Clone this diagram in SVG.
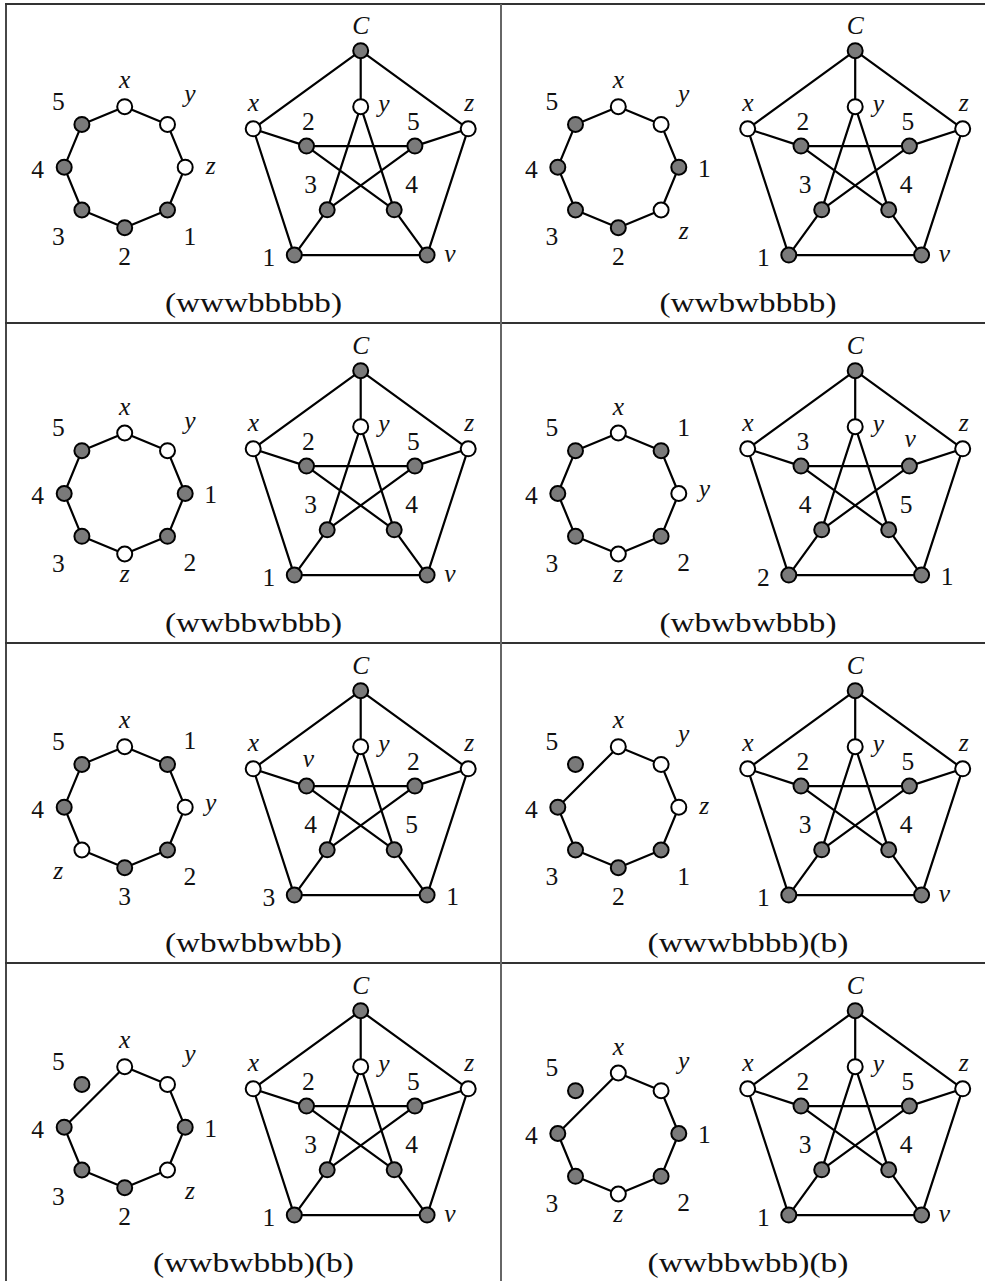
<svg xmlns="http://www.w3.org/2000/svg" xmlns:xlink="http://www.w3.org/1999/xlink" width="985" height="1281" viewBox="0 0 985 1281">
<style>
.edge{fill:none;stroke:#000;stroke-width:2.2;stroke-linejoin:round}
.w{fill:#fff;stroke:#000;stroke-width:2}
.b{fill:#7a7a7a;stroke:#000;stroke-width:2}
.lb{font-family:"Liberation Serif","Times New Roman",serif;font-size:25.5px;text-anchor:middle;fill:#111}
.it{font-style:italic}
.cap{font-family:"Liberation Serif","Times New Roman",serif;font-size:27px;text-anchor:middle;fill:#111}
.tl{stroke:#333;stroke-width:1.8}
.tv{stroke:#666;stroke-width:2}
</style>
<defs>
<path id="ring8" d="M0,-60.5 L42.8,-42.8 L60.5,0 L42.8,42.8 L0,60.5 L-42.8,42.8 L-60.5,0 L-42.8,-42.8 Z"/>
<path id="ring7" d="M0,-60.5 L42.8,-42.8 L60.5,0 L42.8,42.8 L0,60.5 L-42.8,42.8 L-60.5,0 Z"/>
<path id="pet" d="M0,-113 L-107.5,-34.9 L-66.4,91.4 L66.4,91.4 L107.5,-34.9 Z M0,-113 L0,-57 M-107.5,-34.9 L-54.2,-17.6 M107.5,-34.9 L54.2,-17.6 M-66.4,91.4 L-33.5,46.1 M66.4,91.4 L33.5,46.1 M0,-57 L-33.5,46.1 L54.2,-17.6 L-54.2,-17.6 L33.5,46.1 Z"/>
</defs>
<rect x="0" y="0" width="985" height="1281" fill="#fff"/>
<g id="table">
<line class="tl" x1="5" y1="4" x2="985" y2="4"/>
<line class="tl" x1="5" y1="323" x2="985" y2="323"/>
<line class="tl" x1="5" y1="643" x2="985" y2="643"/>
<line class="tl" x1="5" y1="963" x2="985" y2="963"/>
<line class="tl" x1="6" y1="3" x2="6" y2="1281"/>
<line class="tv" x1="501" y1="4" x2="501" y2="1281"/>
</g>
<g id="connectors" class="edge">
<use href="#ring8" x="124.7" y="167.2"/>
<use href="#pet" x="360.7" y="163.7"/>
<use href="#ring8" x="618.3" y="167.2"/>
<use href="#pet" x="855.2" y="163.7"/>
<use href="#ring8" x="124.7" y="493.5"/>
<use href="#pet" x="360.7" y="483.7"/>
<use href="#ring8" x="618.3" y="493.5"/>
<use href="#pet" x="855.2" y="483.7"/>
<use href="#ring8" x="124.7" y="807.2"/>
<use href="#pet" x="360.7" y="803.7"/>
<use href="#ring7" x="618.3" y="807.2"/>
<use href="#pet" x="855.2" y="803.7"/>
<use href="#ring7" x="124.7" y="1127.2"/>
<use href="#pet" x="360.7" y="1123.7"/>
<use href="#ring7" x="618.3" y="1133.5"/>
<use href="#pet" x="855.2" y="1123.7"/>
</g>

<!-- Cell 1L -->
<g id="ring-1L" transform="translate(124.7,167.2)">
<g id="r1L-x"><circle class="w" cx="0" cy="-60.5" r="7.5"/><text class="lb it" x="0" y="-79">x</text></g>
<g id="r1L-y"><circle class="w" cx="42.8" cy="-42.8" r="7.5"/><text class="lb it" x="65.3" y="-65">y</text></g>
<g id="r1L-z"><circle class="w" cx="60.5" cy="0" r="7.5"/><text class="lb it" x="86" y="6.5">z</text></g>
<g id="r1L-1"><circle class="b" cx="42.8" cy="42.8" r="7.5"/><text class="lb" x="65.3" y="77.8">1</text></g>
<g id="r1L-2"><circle class="b" cx="0" cy="60.5" r="7.5"/><text class="lb" x="0" y="98">2</text></g>
<g id="r1L-3"><circle class="b" cx="-42.8" cy="42.8" r="7.5"/><text class="lb" x="-66.4" y="78">3</text></g>
<g id="r1L-4"><circle class="b" cx="-60.5" cy="0" r="7.5"/><text class="lb" x="-87" y="10.5">4</text></g>
<g id="r1L-5"><circle class="b" cx="-42.8" cy="-42.8" r="7.5"/><text class="lb" x="-66.4" y="-57.5">5</text></g>
</g>
<g id="pet-1L" transform="translate(360.7,163.7)">
<g id="p1L-C"><circle class="b" cx="0" cy="-113" r="7.5"/><text class="lb it" x="0" y="-129.3">C</text></g>
<g id="p1L-x"><circle class="w" cx="-107.5" cy="-34.9" r="7.5"/><text class="lb it" x="-107.4" y="-53">x</text></g>
<g id="p1L-z"><circle class="w" cx="107.5" cy="-34.9" r="7.5"/><text class="lb it" x="108.6" y="-53">z</text></g>
<g id="p1L-y"><circle class="w" cx="0" cy="-57" r="7.5"/><text class="lb it" x="23.3" y="-51.5">y</text></g>
<g id="p1L-2"><circle class="b" cx="-54.2" cy="-17.6" r="7.5"/><text class="lb" x="-52.4" y="-33.3">2</text></g>
<g id="p1L-5"><circle class="b" cx="54.2" cy="-17.6" r="7.5"/><text class="lb" x="52.6" y="-33.3">5</text></g>
<g id="p1L-3"><circle class="b" cx="-33.5" cy="46.1" r="7.5"/><text class="lb" x="-50" y="29">3</text></g>
<g id="p1L-4"><circle class="b" cx="33.5" cy="46.1" r="7.5"/><text class="lb" x="51" y="29">4</text></g>
<g id="p1L-1"><circle class="b" cx="-66.4" cy="91.4" r="7.5"/><text class="lb" x="-91.8" y="102.1">1</text></g>
<g id="p1L-v"><circle class="b" cx="66.4" cy="91.4" r="7.5"/><text class="lb it" x="89.3" y="98.7">v</text></g>
</g>
<text id="cap-1L" class="cap" x="253.5" y="311.7" textLength="177" lengthAdjust="spacingAndGlyphs">(wwwbbbbb)</text>

<!-- Cell 1R -->
<g id="ring-1R" transform="translate(618.3,167.2)">
<g id="r1R-x"><circle class="w" cx="0" cy="-60.5" r="7.5"/><text class="lb it" x="0" y="-79">x</text></g>
<g id="r1R-y"><circle class="w" cx="42.8" cy="-42.8" r="7.5"/><text class="lb it" x="65.3" y="-65">y</text></g>
<g id="r1R-1"><circle class="b" cx="60.5" cy="0" r="7.5"/><text class="lb" x="86" y="9.5">1</text></g>
<g id="r1R-z"><circle class="w" cx="42.8" cy="42.8" r="7.5"/><text class="lb it" x="65.3" y="71.8">z</text></g>
<g id="r1R-2"><circle class="b" cx="0" cy="60.5" r="7.5"/><text class="lb" x="0" y="98">2</text></g>
<g id="r1R-3"><circle class="b" cx="-42.8" cy="42.8" r="7.5"/><text class="lb" x="-66.4" y="78">3</text></g>
<g id="r1R-4"><circle class="b" cx="-60.5" cy="0" r="7.5"/><text class="lb" x="-87" y="10.5">4</text></g>
<g id="r1R-5"><circle class="b" cx="-42.8" cy="-42.8" r="7.5"/><text class="lb" x="-66.4" y="-57.5">5</text></g>
</g>
<g id="pet-1R" transform="translate(855.2,163.7)">
<g id="p1R-C"><circle class="b" cx="0" cy="-113" r="7.5"/><text class="lb it" x="0" y="-129.3">C</text></g>
<g id="p1R-x"><circle class="w" cx="-107.5" cy="-34.9" r="7.5"/><text class="lb it" x="-107.4" y="-53">x</text></g>
<g id="p1R-z"><circle class="w" cx="107.5" cy="-34.9" r="7.5"/><text class="lb it" x="108.6" y="-53">z</text></g>
<g id="p1R-y"><circle class="w" cx="0" cy="-57" r="7.5"/><text class="lb it" x="23.3" y="-51.5">y</text></g>
<g id="p1R-2"><circle class="b" cx="-54.2" cy="-17.6" r="7.5"/><text class="lb" x="-52.4" y="-33.3">2</text></g>
<g id="p1R-5"><circle class="b" cx="54.2" cy="-17.6" r="7.5"/><text class="lb" x="52.6" y="-33.3">5</text></g>
<g id="p1R-3"><circle class="b" cx="-33.5" cy="46.1" r="7.5"/><text class="lb" x="-50" y="29">3</text></g>
<g id="p1R-4"><circle class="b" cx="33.5" cy="46.1" r="7.5"/><text class="lb" x="51" y="29">4</text></g>
<g id="p1R-1"><circle class="b" cx="-66.4" cy="91.4" r="7.5"/><text class="lb" x="-91.8" y="102.1">1</text></g>
<g id="p1R-v"><circle class="b" cx="66.4" cy="91.4" r="7.5"/><text class="lb it" x="89.3" y="98.7">v</text></g>
</g>
<text id="cap-1R" class="cap" x="748" y="311.7" textLength="177" lengthAdjust="spacingAndGlyphs">(wwbwbbbb)</text>

<!-- Cell 2L -->
<g id="ring-2L" transform="translate(124.7,493.5)">
<g id="r2L-x"><circle class="w" cx="0" cy="-60.5" r="7.5"/><text class="lb it" x="0" y="-79">x</text></g>
<g id="r2L-y"><circle class="w" cx="42.8" cy="-42.8" r="7.5"/><text class="lb it" x="65.3" y="-65">y</text></g>
<g id="r2L-1"><circle class="b" cx="60.5" cy="0" r="7.5"/><text class="lb" x="86" y="9.5">1</text></g>
<g id="r2L-2"><circle class="b" cx="42.8" cy="42.8" r="7.5"/><text class="lb" x="65.3" y="77.8">2</text></g>
<g id="r2L-z"><circle class="w" cx="0" cy="60.5" r="7.5"/><text class="lb it" x="0" y="88.6">z</text></g>
<g id="r2L-3"><circle class="b" cx="-42.8" cy="42.8" r="7.5"/><text class="lb" x="-66.4" y="78">3</text></g>
<g id="r2L-4"><circle class="b" cx="-60.5" cy="0" r="7.5"/><text class="lb" x="-87" y="10.5">4</text></g>
<g id="r2L-5"><circle class="b" cx="-42.8" cy="-42.8" r="7.5"/><text class="lb" x="-66.4" y="-57.5">5</text></g>
</g>
<g id="pet-2L" transform="translate(360.7,483.7)">
<g id="p2L-C"><circle class="b" cx="0" cy="-113" r="7.5"/><text class="lb it" x="0" y="-129.3">C</text></g>
<g id="p2L-x"><circle class="w" cx="-107.5" cy="-34.9" r="7.5"/><text class="lb it" x="-107.4" y="-53">x</text></g>
<g id="p2L-z"><circle class="w" cx="107.5" cy="-34.9" r="7.5"/><text class="lb it" x="108.6" y="-53">z</text></g>
<g id="p2L-y"><circle class="w" cx="0" cy="-57" r="7.5"/><text class="lb it" x="23.3" y="-51.5">y</text></g>
<g id="p2L-2"><circle class="b" cx="-54.2" cy="-17.6" r="7.5"/><text class="lb" x="-52.4" y="-33.3">2</text></g>
<g id="p2L-5"><circle class="b" cx="54.2" cy="-17.6" r="7.5"/><text class="lb" x="52.6" y="-33.3">5</text></g>
<g id="p2L-3"><circle class="b" cx="-33.5" cy="46.1" r="7.5"/><text class="lb" x="-50" y="29">3</text></g>
<g id="p2L-4"><circle class="b" cx="33.5" cy="46.1" r="7.5"/><text class="lb" x="51" y="29">4</text></g>
<g id="p2L-1"><circle class="b" cx="-66.4" cy="91.4" r="7.5"/><text class="lb" x="-91.8" y="102.1">1</text></g>
<g id="p2L-v"><circle class="b" cx="66.4" cy="91.4" r="7.5"/><text class="lb it" x="89.3" y="98.7">v</text></g>
</g>
<text id="cap-2L" class="cap" x="253.5" y="631.7" textLength="177" lengthAdjust="spacingAndGlyphs">(wwbbwbbb)</text>

<!-- Cell 2R -->
<g id="ring-2R" transform="translate(618.3,493.5)">
<g id="r2R-x"><circle class="w" cx="0" cy="-60.5" r="7.5"/><text class="lb it" x="0" y="-79">x</text></g>
<g id="r2R-1"><circle class="b" cx="42.8" cy="-42.8" r="7.5"/><text class="lb" x="65.3" y="-57.8">1</text></g>
<g id="r2R-y"><circle class="w" cx="60.5" cy="0" r="7.5"/><text class="lb it" x="86" y="3.7">y</text></g>
<g id="r2R-2"><circle class="b" cx="42.8" cy="42.8" r="7.5"/><text class="lb" x="65.3" y="77.8">2</text></g>
<g id="r2R-z"><circle class="w" cx="0" cy="60.5" r="7.5"/><text class="lb it" x="0" y="88.6">z</text></g>
<g id="r2R-3"><circle class="b" cx="-42.8" cy="42.8" r="7.5"/><text class="lb" x="-66.4" y="78">3</text></g>
<g id="r2R-4"><circle class="b" cx="-60.5" cy="0" r="7.5"/><text class="lb" x="-87" y="10.5">4</text></g>
<g id="r2R-5"><circle class="b" cx="-42.8" cy="-42.8" r="7.5"/><text class="lb" x="-66.4" y="-57.5">5</text></g>
</g>
<g id="pet-2R" transform="translate(855.2,483.7)">
<g id="p2R-C"><circle class="b" cx="0" cy="-113" r="7.5"/><text class="lb it" x="0" y="-129.3">C</text></g>
<g id="p2R-x"><circle class="w" cx="-107.5" cy="-34.9" r="7.5"/><text class="lb it" x="-107.4" y="-53">x</text></g>
<g id="p2R-z"><circle class="w" cx="107.5" cy="-34.9" r="7.5"/><text class="lb it" x="108.6" y="-53">z</text></g>
<g id="p2R-y"><circle class="w" cx="0" cy="-57" r="7.5"/><text class="lb it" x="23.3" y="-51.5">y</text></g>
<g id="p2R-3"><circle class="b" cx="-54.2" cy="-17.6" r="7.5"/><text class="lb" x="-52.4" y="-33.3">3</text></g>
<g id="p2R-v"><circle class="b" cx="54.2" cy="-17.6" r="7.5"/><text class="lb it" x="55" y="-37">v</text></g>
<g id="p2R-4"><circle class="b" cx="-33.5" cy="46.1" r="7.5"/><text class="lb" x="-50" y="29">4</text></g>
<g id="p2R-5"><circle class="b" cx="33.5" cy="46.1" r="7.5"/><text class="lb" x="51" y="29">5</text></g>
<g id="p2R-2"><circle class="b" cx="-66.4" cy="91.4" r="7.5"/><text class="lb" x="-91.8" y="102.1">2</text></g>
<g id="p2R-1"><circle class="b" cx="66.4" cy="91.4" r="7.5"/><text class="lb" x="92" y="101.7">1</text></g>
</g>
<text id="cap-2R" class="cap" x="748" y="631.7" textLength="177" lengthAdjust="spacingAndGlyphs">(wbwbwbbb)</text>

<!-- Cell 3L -->
<g id="ring-3L" transform="translate(124.7,807.2)">
<g id="r3L-x"><circle class="w" cx="0" cy="-60.5" r="7.5"/><text class="lb it" x="0" y="-79">x</text></g>
<g id="r3L-1"><circle class="b" cx="42.8" cy="-42.8" r="7.5"/><text class="lb" x="65.3" y="-57.8">1</text></g>
<g id="r3L-y"><circle class="w" cx="60.5" cy="0" r="7.5"/><text class="lb it" x="86" y="3.7">y</text></g>
<g id="r3L-2"><circle class="b" cx="42.8" cy="42.8" r="7.5"/><text class="lb" x="65.3" y="77.8">2</text></g>
<g id="r3L-3"><circle class="b" cx="0" cy="60.5" r="7.5"/><text class="lb" x="0" y="98">3</text></g>
<g id="r3L-z"><circle class="w" cx="-42.8" cy="42.8" r="7.5"/><text class="lb it" x="-66.4" y="71.8">z</text></g>
<g id="r3L-4"><circle class="b" cx="-60.5" cy="0" r="7.5"/><text class="lb" x="-87" y="10.5">4</text></g>
<g id="r3L-5"><circle class="b" cx="-42.8" cy="-42.8" r="7.5"/><text class="lb" x="-66.4" y="-57.5">5</text></g>
</g>
<g id="pet-3L" transform="translate(360.7,803.7)">
<g id="p3L-C"><circle class="b" cx="0" cy="-113" r="7.5"/><text class="lb it" x="0" y="-129.3">C</text></g>
<g id="p3L-x"><circle class="w" cx="-107.5" cy="-34.9" r="7.5"/><text class="lb it" x="-107.4" y="-53">x</text></g>
<g id="p3L-z"><circle class="w" cx="107.5" cy="-34.9" r="7.5"/><text class="lb it" x="108.6" y="-53">z</text></g>
<g id="p3L-y"><circle class="w" cx="0" cy="-57" r="7.5"/><text class="lb it" x="23.3" y="-51.5">y</text></g>
<g id="p3L-v"><circle class="b" cx="-54.2" cy="-17.6" r="7.5"/><text class="lb it" x="-52.4" y="-37">v</text></g>
<g id="p3L-2"><circle class="b" cx="54.2" cy="-17.6" r="7.5"/><text class="lb" x="52.6" y="-33.3">2</text></g>
<g id="p3L-4"><circle class="b" cx="-33.5" cy="46.1" r="7.5"/><text class="lb" x="-50" y="29">4</text></g>
<g id="p3L-5"><circle class="b" cx="33.5" cy="46.1" r="7.5"/><text class="lb" x="51" y="29">5</text></g>
<g id="p3L-3"><circle class="b" cx="-66.4" cy="91.4" r="7.5"/><text class="lb" x="-91.8" y="102.1">3</text></g>
<g id="p3L-1"><circle class="b" cx="66.4" cy="91.4" r="7.5"/><text class="lb" x="92" y="101.7">1</text></g>
</g>
<text id="cap-3L" class="cap" x="253.5" y="951.7" textLength="177" lengthAdjust="spacingAndGlyphs">(wbwbbwbb)</text>

<!-- Cell 3R -->
<g id="ring-3R" transform="translate(618.3,807.2)">
<g id="r3R-x"><circle class="w" cx="0" cy="-60.5" r="7.5"/><text class="lb it" x="0" y="-79">x</text></g>
<g id="r3R-y"><circle class="w" cx="42.8" cy="-42.8" r="7.5"/><text class="lb it" x="65.3" y="-65">y</text></g>
<g id="r3R-z"><circle class="w" cx="60.5" cy="0" r="7.5"/><text class="lb it" x="86" y="6.5">z</text></g>
<g id="r3R-1"><circle class="b" cx="42.8" cy="42.8" r="7.5"/><text class="lb" x="65.3" y="77.8">1</text></g>
<g id="r3R-2"><circle class="b" cx="0" cy="60.5" r="7.5"/><text class="lb" x="0" y="98">2</text></g>
<g id="r3R-3"><circle class="b" cx="-42.8" cy="42.8" r="7.5"/><text class="lb" x="-66.4" y="78">3</text></g>
<g id="r3R-4"><circle class="b" cx="-60.5" cy="0" r="7.5"/><text class="lb" x="-87" y="10.5">4</text></g>
<g id="r3R-5"><circle class="b" cx="-42.8" cy="-42.8" r="7.5"/><text class="lb" x="-66.4" y="-57.5">5</text></g>
</g>
<g id="pet-3R" transform="translate(855.2,803.7)">
<g id="p3R-C"><circle class="b" cx="0" cy="-113" r="7.5"/><text class="lb it" x="0" y="-129.3">C</text></g>
<g id="p3R-x"><circle class="w" cx="-107.5" cy="-34.9" r="7.5"/><text class="lb it" x="-107.4" y="-53">x</text></g>
<g id="p3R-z"><circle class="w" cx="107.5" cy="-34.9" r="7.5"/><text class="lb it" x="108.6" y="-53">z</text></g>
<g id="p3R-y"><circle class="w" cx="0" cy="-57" r="7.5"/><text class="lb it" x="23.3" y="-51.5">y</text></g>
<g id="p3R-2"><circle class="b" cx="-54.2" cy="-17.6" r="7.5"/><text class="lb" x="-52.4" y="-33.3">2</text></g>
<g id="p3R-5"><circle class="b" cx="54.2" cy="-17.6" r="7.5"/><text class="lb" x="52.6" y="-33.3">5</text></g>
<g id="p3R-3"><circle class="b" cx="-33.5" cy="46.1" r="7.5"/><text class="lb" x="-50" y="29">3</text></g>
<g id="p3R-4"><circle class="b" cx="33.5" cy="46.1" r="7.5"/><text class="lb" x="51" y="29">4</text></g>
<g id="p3R-1"><circle class="b" cx="-66.4" cy="91.4" r="7.5"/><text class="lb" x="-91.8" y="102.1">1</text></g>
<g id="p3R-v"><circle class="b" cx="66.4" cy="91.4" r="7.5"/><text class="lb it" x="89.3" y="98.7">v</text></g>
</g>
<text id="cap-3R" class="cap" x="748" y="951.7" textLength="201" lengthAdjust="spacingAndGlyphs">(wwwbbbb)(b)</text>

<!-- Cell 4L -->
<g id="ring-4L" transform="translate(124.7,1127.2)">
<g id="r4L-x"><circle class="w" cx="0" cy="-60.5" r="7.5"/><text class="lb it" x="0" y="-79">x</text></g>
<g id="r4L-y"><circle class="w" cx="42.8" cy="-42.8" r="7.5"/><text class="lb it" x="65.3" y="-65">y</text></g>
<g id="r4L-1"><circle class="b" cx="60.5" cy="0" r="7.5"/><text class="lb" x="86" y="9.5">1</text></g>
<g id="r4L-z"><circle class="w" cx="42.8" cy="42.8" r="7.5"/><text class="lb it" x="65.3" y="71.8">z</text></g>
<g id="r4L-2"><circle class="b" cx="0" cy="60.5" r="7.5"/><text class="lb" x="0" y="98">2</text></g>
<g id="r4L-3"><circle class="b" cx="-42.8" cy="42.8" r="7.5"/><text class="lb" x="-66.4" y="78">3</text></g>
<g id="r4L-4"><circle class="b" cx="-60.5" cy="0" r="7.5"/><text class="lb" x="-87" y="10.5">4</text></g>
<g id="r4L-5"><circle class="b" cx="-42.8" cy="-42.8" r="7.5"/><text class="lb" x="-66.4" y="-57.5">5</text></g>
</g>
<g id="pet-4L" transform="translate(360.7,1123.7)">
<g id="p4L-C"><circle class="b" cx="0" cy="-113" r="7.5"/><text class="lb it" x="0" y="-129.3">C</text></g>
<g id="p4L-x"><circle class="w" cx="-107.5" cy="-34.9" r="7.5"/><text class="lb it" x="-107.4" y="-53">x</text></g>
<g id="p4L-z"><circle class="w" cx="107.5" cy="-34.9" r="7.5"/><text class="lb it" x="108.6" y="-53">z</text></g>
<g id="p4L-y"><circle class="w" cx="0" cy="-57" r="7.5"/><text class="lb it" x="23.3" y="-51.5">y</text></g>
<g id="p4L-2"><circle class="b" cx="-54.2" cy="-17.6" r="7.5"/><text class="lb" x="-52.4" y="-33.3">2</text></g>
<g id="p4L-5"><circle class="b" cx="54.2" cy="-17.6" r="7.5"/><text class="lb" x="52.6" y="-33.3">5</text></g>
<g id="p4L-3"><circle class="b" cx="-33.5" cy="46.1" r="7.5"/><text class="lb" x="-50" y="29">3</text></g>
<g id="p4L-4"><circle class="b" cx="33.5" cy="46.1" r="7.5"/><text class="lb" x="51" y="29">4</text></g>
<g id="p4L-1"><circle class="b" cx="-66.4" cy="91.4" r="7.5"/><text class="lb" x="-91.8" y="102.1">1</text></g>
<g id="p4L-v"><circle class="b" cx="66.4" cy="91.4" r="7.5"/><text class="lb it" x="89.3" y="98.7">v</text></g>
</g>
<text id="cap-4L" class="cap" x="253.5" y="1271.7" textLength="201" lengthAdjust="spacingAndGlyphs">(wwbwbbb)(b)</text>

<!-- Cell 4R -->
<g id="ring-4R" transform="translate(618.3,1133.5)">
<g id="r4R-x"><circle class="w" cx="0" cy="-60.5" r="7.5"/><text class="lb it" x="0" y="-79">x</text></g>
<g id="r4R-y"><circle class="w" cx="42.8" cy="-42.8" r="7.5"/><text class="lb it" x="65.3" y="-65">y</text></g>
<g id="r4R-1"><circle class="b" cx="60.5" cy="0" r="7.5"/><text class="lb" x="86" y="9.5">1</text></g>
<g id="r4R-2"><circle class="b" cx="42.8" cy="42.8" r="7.5"/><text class="lb" x="65.3" y="77.8">2</text></g>
<g id="r4R-z"><circle class="w" cx="0" cy="60.5" r="7.5"/><text class="lb it" x="0" y="88.6">z</text></g>
<g id="r4R-3"><circle class="b" cx="-42.8" cy="42.8" r="7.5"/><text class="lb" x="-66.4" y="78">3</text></g>
<g id="r4R-4"><circle class="b" cx="-60.5" cy="0" r="7.5"/><text class="lb" x="-87" y="10.5">4</text></g>
<g id="r4R-5"><circle class="b" cx="-42.8" cy="-42.8" r="7.5"/><text class="lb" x="-66.4" y="-57.5">5</text></g>
</g>
<g id="pet-4R" transform="translate(855.2,1123.7)">
<g id="p4R-C"><circle class="b" cx="0" cy="-113" r="7.5"/><text class="lb it" x="0" y="-129.3">C</text></g>
<g id="p4R-x"><circle class="w" cx="-107.5" cy="-34.9" r="7.5"/><text class="lb it" x="-107.4" y="-53">x</text></g>
<g id="p4R-z"><circle class="w" cx="107.5" cy="-34.9" r="7.5"/><text class="lb it" x="108.6" y="-53">z</text></g>
<g id="p4R-y"><circle class="w" cx="0" cy="-57" r="7.5"/><text class="lb it" x="23.3" y="-51.5">y</text></g>
<g id="p4R-2"><circle class="b" cx="-54.2" cy="-17.6" r="7.5"/><text class="lb" x="-52.4" y="-33.3">2</text></g>
<g id="p4R-5"><circle class="b" cx="54.2" cy="-17.6" r="7.5"/><text class="lb" x="52.6" y="-33.3">5</text></g>
<g id="p4R-3"><circle class="b" cx="-33.5" cy="46.1" r="7.5"/><text class="lb" x="-50" y="29">3</text></g>
<g id="p4R-4"><circle class="b" cx="33.5" cy="46.1" r="7.5"/><text class="lb" x="51" y="29">4</text></g>
<g id="p4R-1"><circle class="b" cx="-66.4" cy="91.4" r="7.5"/><text class="lb" x="-91.8" y="102.1">1</text></g>
<g id="p4R-v"><circle class="b" cx="66.4" cy="91.4" r="7.5"/><text class="lb it" x="89.3" y="98.7">v</text></g>
</g>
<text id="cap-4R" class="cap" x="748" y="1271.7" textLength="201" lengthAdjust="spacingAndGlyphs">(wwbbwbb)(b)</text>
</svg>
